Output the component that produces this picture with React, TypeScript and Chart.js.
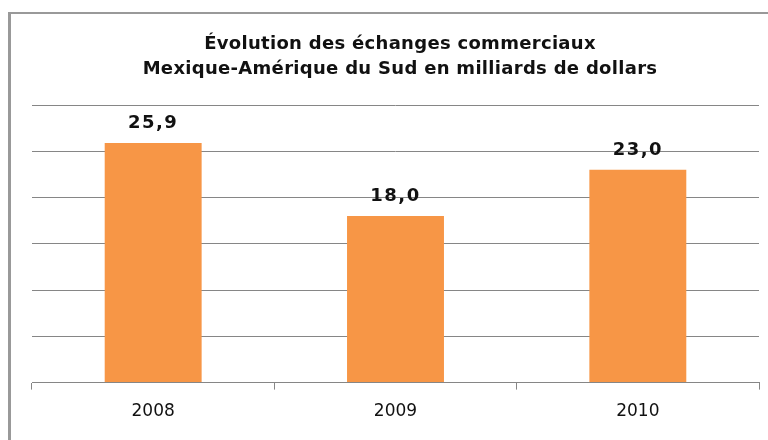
import React, { useEffect, useRef } from "react";
import { Chart, registerables } from "chart.js";

Chart.register(...registerables);

const categories = ["2008", "2009", "2010"];
const values = [25.9, 18.0, 23.0];
const valueLabels = ["25,9", "18,0", "23,0"];
const titleLines = ["Évolution des échanges commerciaux", "Mexique-Amérique du Sud en milliards de dollars"];

const overlayPlugin = {
  id: "overlay",
  afterDatasetsDraw(chart: any) {
    const ctx = chart.ctx;
    ctx.save();
    ctx.fillStyle = "#111";
    ctx.textAlign = "center";
    ctx.textBaseline = "alphabetic";
    ctx.font = "bold 18px 'DejaVu Sans', sans-serif";
    (ctx as any).letterSpacing = "0.3px";
    const cx = 389;
    ctx.fillText(titleLines[0], cx, 35);
    ctx.fillText(titleLines[1], cx, 60);
    const meta = chart.getDatasetMeta(0);
    ctx.font = "bold 18px 'DejaVu Sans', sans-serif";
    (ctx as any).letterSpacing = "1.5px";
    meta.data.forEach((bar: any, i: number) => {
      ctx.fillText(valueLabels[i], bar.x, bar.y - 15);
    });
    ctx.restore();
  },
};

export default function App() {
  const ref = useRef<HTMLCanvasElement>(null);
  useEffect(() => {
    if (!ref.current) return;
    const chart = new Chart(ref.current, {
      type: "bar",
      data: {
        labels: categories,
        datasets: [
          {
            data: values,
            backgroundColor: "#F79646",
            borderWidth: 0,
            barPercentage: 0.4,
            categoryPercentage: 1,
          },
        ],
      },
      options: {
        animation: false,
        responsive: false,
        maintainAspectRatio: false,
        layout: { padding: { top: 91, left: 21, right: 9, bottom: 6 } },
        plugins: { legend: { display: false }, title: { display: false }, tooltip: { enabled: false } },
        scales: {
          x: {
            grid: { offset: true, drawOnChartArea: false, drawTicks: true, tickLength: 7, color: "#868686" },
            border: { display: true, color: "#868686", width: 1 },
            ticks: { color: "#111", padding: 12, font: { family: "'DejaVu Sans', sans-serif", size: 17 } },
          },
          y: {
            min: 0,
            max: 30,
            ticks: { display: false, stepSize: 5 },
            grid: { color: "#868686", drawTicks: false },
            border: { display: false },
          },
        },
      },
      plugins: [overlayPlugin],
    });
    return () => chart.destroy();
  }, []);
  return (
    <div style={{ position: "fixed", left: 0, top: 0, width: 768, height: 440, background: "#fff" }}>
      <div
        style={{
          position: "absolute",
          left: 8,
          top: 12,
          width: 760,
          height: 428,
          borderLeft: "3px solid #999",
          borderTop: "2px solid #999",
          boxSizing: "border-box",
        }}
      />
      <canvas ref={ref} width={757} height={426} style={{ position: "absolute", left: 11, top: 14, width: 757, height: 426 }} />
    </div>
  );
}
